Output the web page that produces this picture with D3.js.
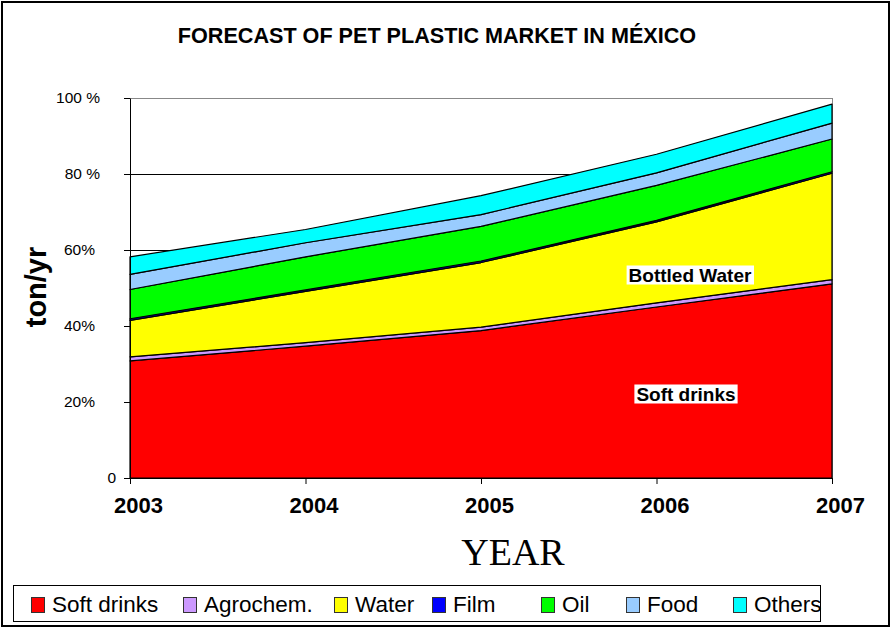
<!DOCTYPE html>
<html><head><meta charset="utf-8">
<script src="https://cdn.jsdelivr.net/npm/d3@7"></script>
<style>
html,body{margin:0;padding:0;background:#fff;}
svg{display:block;font-family:"Liberation Sans",Arial,sans-serif;}
</style></head>
<body>
<svg id="chart" width="894" height="629"></svg>
<script>
const years = ["2003","2004","2005","2006","2007"];
const seriesNames = ["Soft drinks","Agrochem.","Water","Film","Oil","Food","Others"];
const softDrinks = [30.8, 34.7, 38.8, 45.0, 51.1];
const agrochem   = [1.1, 0.9, 0.9, 1.1, 1.1];
const water      = [9.6, 13.5, 17.0, 21.3, 28.0];
const film       = [0.4, 0.4, 0.4, 0.4, 0.4];
const oil        = [7.7, 8.7, 9.1, 9.2, 8.6];
const food       = [4.0, 3.7, 3.1, 3.3, 4.2];
const others     = [4.6, 3.5, 5.0, 4.9, 5.0];
const colors = ["#FF0000","#CC99FF","#FFFF00","#0000FF","#00FF00","#99CCFF","#00FFFF"];
const yTickValues = [0, 20, 40, 60, 80, 100];
const yTickLabels = ["0", "20%", "40%", "60%", "80 %", "100 %"];
const title = "FORECAST OF PET PLASTIC MARKET IN MÉXICO";
const areaLabels = [{text:"Bottled Water", series:"Water"}, {text:"Soft drinks", series:"Soft drinks"}];

(function () {
const valuesBySeries = [softDrinks, agrochem, water, film, oil, food, others];
const table = years.map((yr, i) => {
  const row = {year: yr};
  seriesNames.forEach((s, j) => row[s] = valuesBySeries[j][i]);
  return row;
});

const svg = d3.select("#chart");
const pL = 130, pR = 832, pT = 98, pB = 478;

// outer frame
svg.append("rect").attr("x", 2).attr("y", 2).attr("width", 887).attr("height", 624)
  .attr("fill", "#fff").attr("stroke", "#000").attr("stroke-width", 2);

const x = d3.scalePoint().domain(years).range([pL, pR]);
const y = d3.scaleLinear().domain([0, 100]).range([pB, pT]);

// gridlines
svg.append("g").selectAll("line").data(yTickValues.filter(v => v > 0)).join("line")
  .attr("x1", pL).attr("x2", pR)
  .attr("y1", d => Math.round(y(d)) + 0.5).attr("y2", d => Math.round(y(d)) + 0.5)
  .attr("stroke", d => d === 100 ? "#888" : "#000").attr("stroke-width", 1);
// right border of plot
svg.append("line").attr("x1", pR + 0.5).attr("x2", pR + 0.5).attr("y1", y(100)).attr("y2", pB)
  .attr("stroke", "#888");

const stack = d3.stack().keys(seriesNames);
const layers = stack(table);
const area = d3.area().x(d => x(d.data.year)).y0(d => y(d[0])).y1(d => y(d[1]));

svg.append("g").selectAll("path").data(layers).join("path")
  .attr("d", area)
  .attr("fill", (d, i) => colors[i])
  .attr("stroke", "#000").attr("stroke-width", 1.2).attr("stroke-linejoin", "round");

// area labels
const labelPos = {"Water": {cx: 690, cy: 275}, "Soft drinks": {cx: 686, cy: 394}};
areaLabels.forEach(l => {
  const p = labelPos[l.series];
  const g = svg.append("g");
  const t = g.append("text").attr("x", p.cx).attr("y", p.cy).attr("text-anchor", "middle")
    .attr("dominant-baseline", "central").attr("font-weight", "bold").attr("font-size", 19)
    .attr("fill", "#000").text(l.text);
  const bb = t.node().getBBox();
  g.insert("rect", "text").attr("x", bb.x - 2).attr("y", bb.y + 1).attr("width", bb.width + 4)
    .attr("height", bb.height - 2).attr("fill", "#fff");
});

// y axis
const yAxis = d3.axisLeft(y).tickValues(yTickValues)
  .tickFormat((d, i) => yTickLabels[i]).tickSize(6).tickSizeOuter(0);
const gy = svg.append("g").attr("transform", `translate(${pL},0)`).call(yAxis);
gy.select(".domain").attr("stroke", "#000");
gy.selectAll(".tick line").attr("stroke", "#000");
gy.selectAll(".tick text").attr("font-size", 15.5).attr("fill", "#000")
  .attr("font-family", "Liberation Sans, Arial, sans-serif")
  .attr("x", d => d === 0 ? -14 : (d >= 80 ? -30 : -35));

// x axis
const xAxis = d3.axisBottom(x).tickSize(6).tickSizeOuter(0);
const gx = svg.append("g").attr("transform", `translate(0,${pB})`).call(xAxis);
gx.select(".domain").attr("stroke", "#000");
gx.selectAll(".tick line").attr("stroke", "#000");
gx.selectAll(".tick text").attr("font-size", 22).attr("font-weight", "bold").attr("fill", "#000")
  .attr("font-family", "Liberation Sans, Arial, sans-serif")
  .attr("dx", 8).attr("dy", 0).attr("y", 35);

// titles
svg.append("text").attr("x", 437).attr("y", 43).attr("text-anchor", "middle")
  .attr("font-weight", "bold").attr("font-size", 21.6).text(title);
svg.append("text").attr("x", 513).attr("y", 565).attr("text-anchor", "middle")
  .attr("font-family", "Liberation Serif, Times New Roman, serif").attr("font-size", 38).text("YEAR");
svg.append("text").attr("transform", "translate(46,287) rotate(-90)").attr("text-anchor", "middle")
  .attr("font-weight", "bold").attr("font-size", 29).text("ton/yr");

// legend
const legend = svg.append("g");
legend.append("rect").attr("x", 13.5).attr("y", 585.5).attr("width", 807).attr("height", 36)
  .attr("fill", "#fff").attr("stroke", "#000").attr("stroke-width", 1);
const legendX = [31, 183, 334, 432, 541, 626, 733];
seriesNames.forEach((s, i) => {
  legend.append("rect").attr("x", legendX[i] + 0.5).attr("y", 597.5).attr("width", 13).attr("height", 15)
    .attr("fill", colors[i]).attr("stroke", "#333").attr("stroke-width", 1);
  legend.append("text").attr("x", legendX[i] + 21).attr("y", 612).attr("font-size", 22.5).text(s);
});
})();
</script>
</body></html>
